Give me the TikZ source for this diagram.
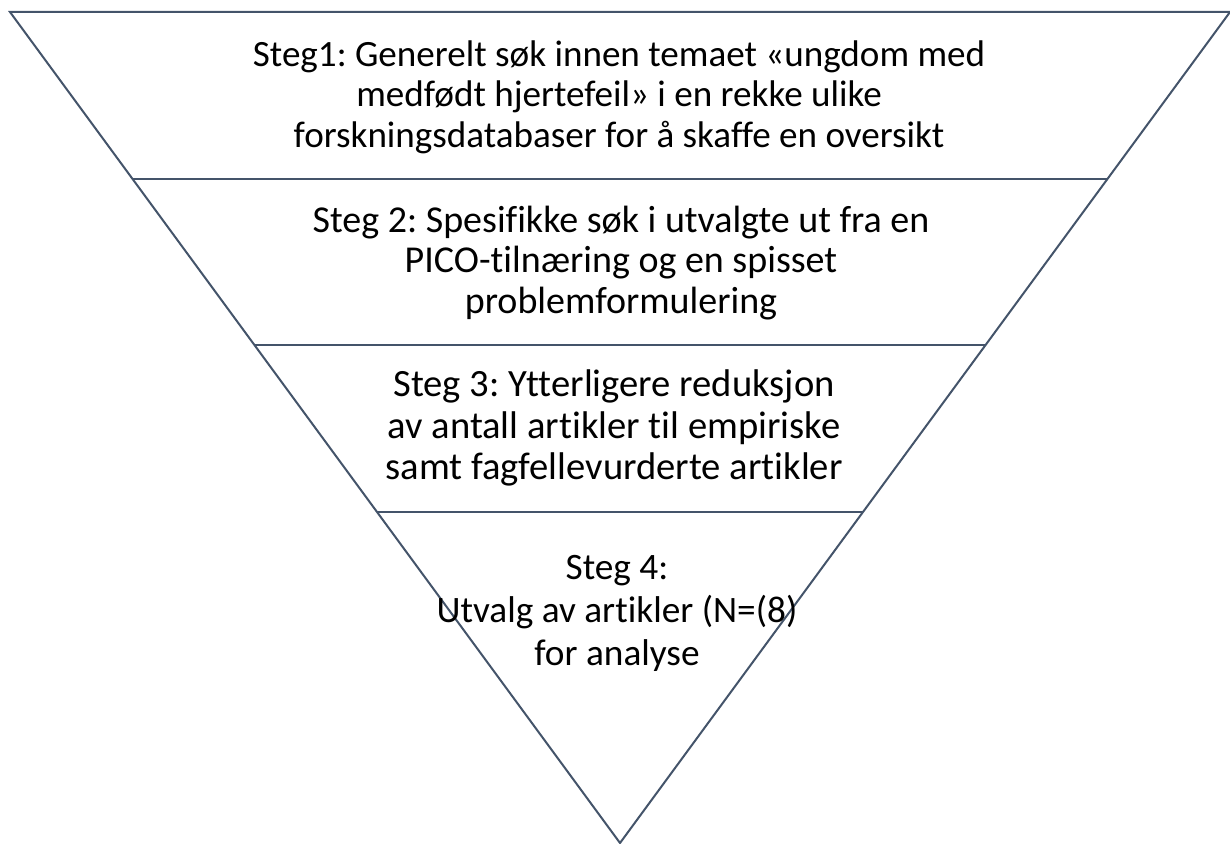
\documentclass[tikz,border=0pt]{standalone}
\usepackage{fontspec}
\setmainfont[Ligatures=NoCommon]{Carlito}
\usetikzlibrary{calc}
\definecolor{edgecol}{HTML}{44546A}
\frenchspacing
\begin{document}
\begin{tikzpicture}[x=1pt,y=-1pt,
  frame/.style={draw=edgecol,line width=2pt,line join=miter},
  divider/.style={draw=edgecol,line width=2.5pt},
  steptext/.style={align=center,inner sep=0pt,text=black}]
\useasboundingbox (0,0) rectangle (1230,843);
\coordinate (L) at (10,12);
\coordinate (R) at (1230,12);
\coordinate (A) at (620,843);
\draw[frame] (A) -- (L) -- (R) -- cycle;
\draw[divider] ($(L)!0.2010!(A)$) coordinate (l1) -- ($(R)!0.2010!(A)$) coordinate (r1);
\draw[divider] ($(L)!0.4007!(A)$) coordinate (l2) -- ($(R)!0.4007!(A)$) coordinate (r2);
\draw[divider] ($(L)!0.6017!(A)$) coordinate (l3) -- ($(R)!0.6017!(A)$) coordinate (r3);
\node[steptext,font=\fontsize{37.1}{40.5}\selectfont] (s1) at (619,97) {Steg1: Generelt søk innen temaet «ungdom med\\medfødt hjertefeil» i en rekke ulike\\forskningsdatabaser for å skaffe en oversikt};
\node[steptext,font=\fontsize{38}{40.5}\selectfont] (s2) at (621,263) {Steg 2: Spesifikke søk i utvalgte ut fra en\\PICO-tilnæring og en spisset\\problemformulering};
\node[steptext,font=\fontsize{38.6}{41.5}\selectfont] (s3) at (614,428) {Steg 3: Ytterligere reduksjon\\av antall artikler til empiriske\\samt fagfellevurderte artikler};
\node[steptext,font=\fontsize{37.3}{43}\selectfont] (s4) at (617,613) {Steg 4:\\Utvalg av artikler (N=(8)\\for analyse};
\end{tikzpicture}
\end{document}
